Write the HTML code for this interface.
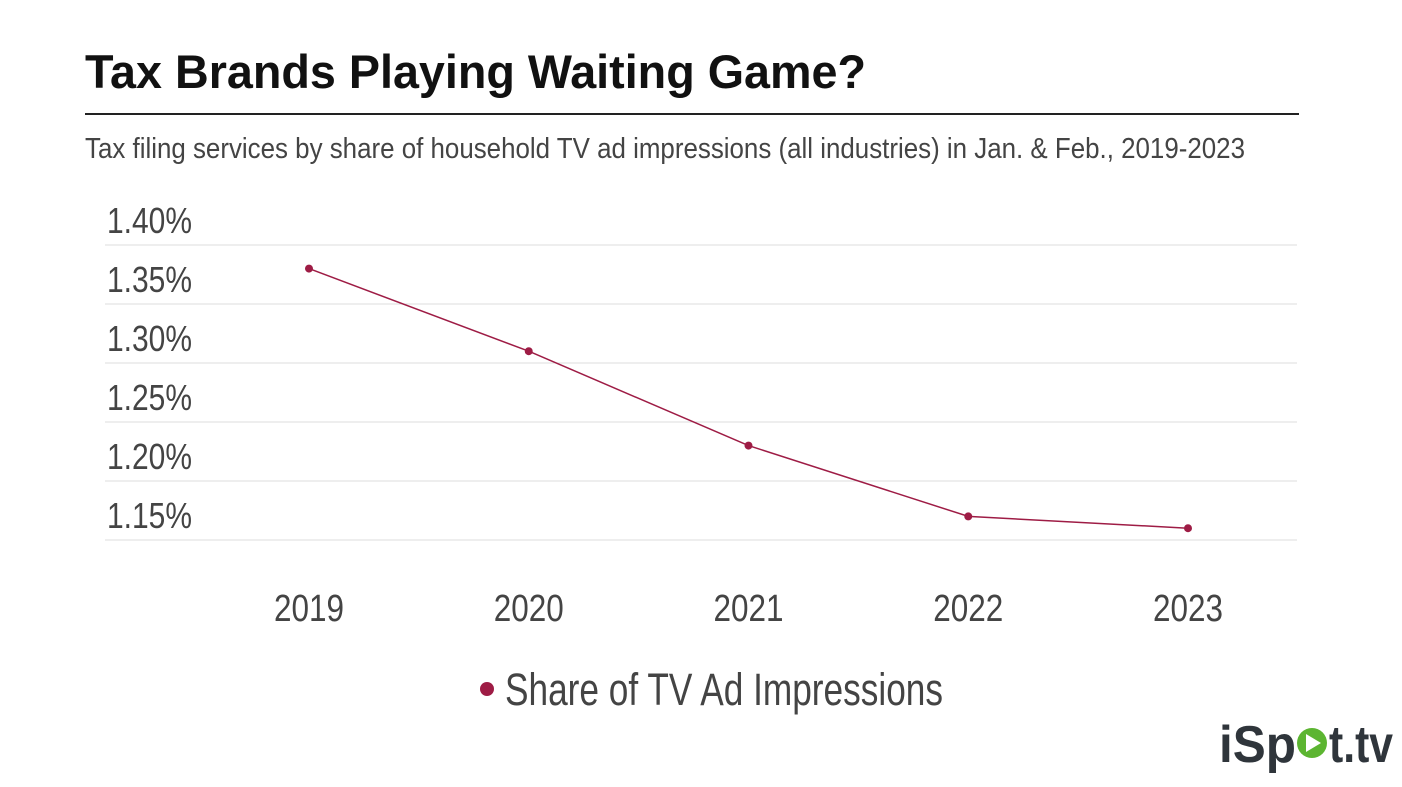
<!DOCTYPE html>
<html><head><meta charset="utf-8"><style>
html,body{margin:0;padding:0;background:#fff;}
svg{display:block;font-family:"Liberation Sans Narrow","Liberation Sans",sans-serif;}
</style></head><body>
<svg id="chart" width="1402" height="787" viewBox="0 0 1402 787" xmlns="http://www.w3.org/2000/svg">
<text x="85" y="88" font-size="47" font-weight="bold" fill="#111" textLength="781" lengthAdjust="spacingAndGlyphs">Tax Brands Playing Waiting Game?</text>
<line x1="85" y1="114" x2="1299" y2="114" stroke="#222" stroke-width="2"/>
<text x="85" y="158" font-size="29" fill="#444" textLength="1160" lengthAdjust="spacingAndGlyphs">Tax filing services by share of household TV ad impressions (all industries) in Jan. &amp; Feb., 2019-2023</text>
<g id="grid"></g><g id="xaxis"></g><g id="series"></g>
<g>
<circle cx="487" cy="689" r="7" fill="#9e1c45"/>
<text x="505" y="705" font-size="45" fill="#444" textLength="438" lengthAdjust="spacingAndGlyphs">Share of TV Ad Impressions</text>
</g>
<g font-family="Liberation Sans, sans-serif" font-weight="bold" fill="#2f353b">
<text x="1219" y="762" font-size="52" textLength="77" lengthAdjust="spacingAndGlyphs">iSp</text>
<circle cx="1312" cy="743" r="15" fill="#5cb531"/>
<polygon points="1306,734 1306,752 1321,743" fill="#fff"/>
<text x="1329" y="762" font-size="52" textLength="64" lengthAdjust="spacingAndGlyphs">t.tv</text>
</g>
</svg>
<script>
const years = ["2019","2020","2021","2022","2023"];
const shareValues = [1.38, 1.31, 1.23, 1.17, 1.16];
const yTicks = [1.40, 1.35, 1.30, 1.25, 1.20, 1.15];
const yTickLabels = ["1.40%","1.35%","1.30%","1.25%","1.20%","1.15%"];
const NS = "http://www.w3.org/2000/svg";
const x = i => 309 + i * 219.75;
const y = v => 540 - (v - 1.15) / 0.05 * 59;
function mk(tag, attrs, parent){const e=document.createElementNS(NS,tag);for(const k in attrs)e.setAttribute(k,attrs[k]);parent.appendChild(e);return e;}
const grid=document.getElementById('grid');
yTicks.forEach((t,i)=>{
  const l=mk('line',{x1:105,x2:1297,y1:y(t),y2:y(t),stroke:'#ddd','stroke-width':1},grid);
  
  
  const tx=mk('text',{x:107,y:y(t)-12,'font-size':36,fill:'#444',textLength:85,lengthAdjust:'spacingAndGlyphs'},grid);
  tx.textContent=yTickLabels[i];
  
  
});
const xa=document.getElementById('xaxis');
years.forEach((yr,i)=>{
  const tx=mk('text',{x:x(i),y:621,'font-size':38,fill:'#444','text-anchor':'middle',textLength:70,lengthAdjust:'spacingAndGlyphs'},xa);
  tx.textContent=yr;
  
  
});
const s=document.getElementById('series');
const line=mk('polyline',{points:shareValues.map((v,i)=>x(i)+','+y(v)).join(' '),fill:'none',stroke:'#9e1c45','stroke-width':1.5},s);


shareValues.forEach((v,i)=>{
  const c=mk('circle',{cx:x(i),cy:y(v),r:4,fill:'#9e1c45'},s);
  
  
});
</script>
</body></html>
